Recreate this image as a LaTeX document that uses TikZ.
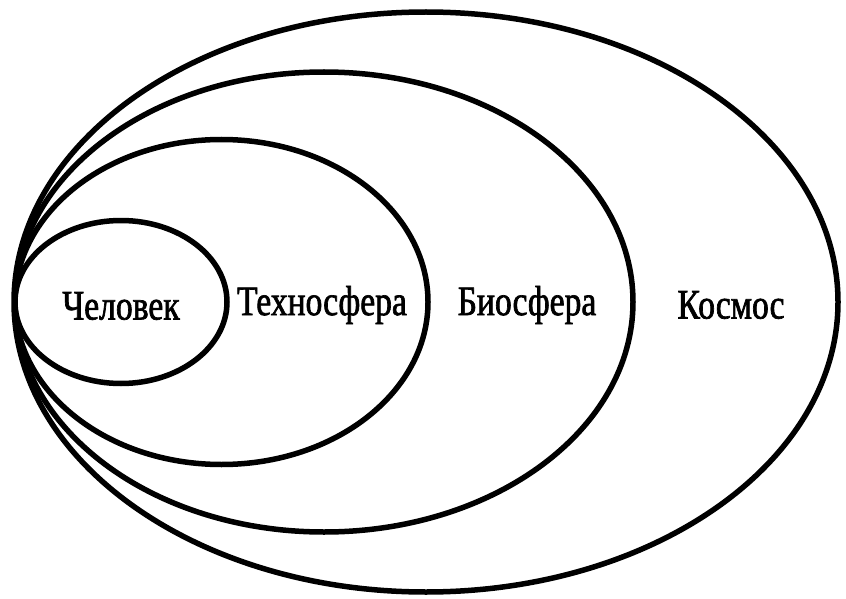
\documentclass[tikz,border=0pt]{standalone}
\usepackage{fontspec}
\setmainfont{Liberation Serif}[FakeStretch=0.8, FakeBold=1.6]
\usetikzlibrary{shapes.geometric}

\begin{document}
\begin{tikzpicture}[
  x=1pt, y=-1pt,
  sphere/.style={ellipse, draw=black, line width=5.5pt, inner sep=0pt},
  lbl/.style={font=\fontsize{42}{42}\selectfont, inner sep=0pt}
]
\useasboundingbox (0,0) rectangle (846,599);
% nested spheres, all touching at the left edge
\node[sphere, minimum width=824pt, minimum height=580pt] (kosmos)   at (426,302) {};
\node[sphere, minimum width=618pt, minimum height=460pt] (biosf)    at (324,302) {};
\node[sphere, minimum width=413pt, minimum height=325pt] (technosf) at (221.5,302) {};
\node[sphere, minimum width=212pt, minimum height=163pt] (chelovek) at (121,302) {};

\node[lbl] (tchel)  at (121,306) {Человек};
\node[lbl] (ttech)  at (322,305) {Техносфера};
\node[lbl] (tbio)   at (527,305) {Биосфера};
\node[lbl] (tkosm)  at (731,305) {Космос};
\end{tikzpicture}
\end{document}
